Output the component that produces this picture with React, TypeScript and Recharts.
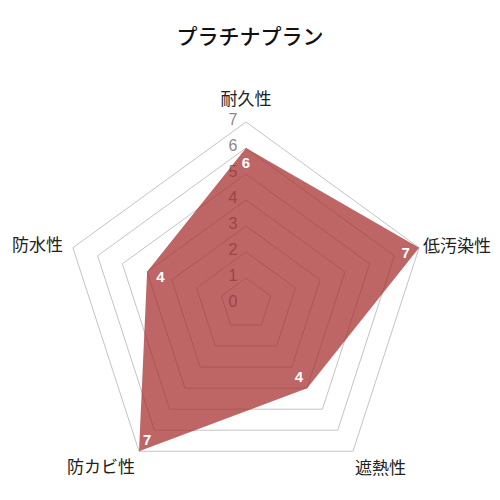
import React from 'react';
import { RadarChart, Radar, PolarGrid, PolarAngleAxis, PolarRadiusAxis } from 'recharts';

const categories = ['耐久性', '低汚染性', '遮熱性', '防カビ性', '防水性'];
const scores = [6, 7, 4, 7, 4];
const radiusTicks = [0, 1, 2, 3, 4, 5, 6, 7];

const data = categories.map((name, i) => ({ name, score: scores[i] }));

const CX = 246;
const CY = 304;
const R = 182;

const JP_FONT = '"Noto Sans CJK JP", "Noto Sans", sans-serif';
const NUM_FONT = '"Liberation Sans", Arial, sans-serif';

// label placement around each outer vertex (center of the text)
const angleLabelPos = [
  { anchor: 'middle', dx: 0, dy: -25 },
  { anchor: 'start', dx: 4, dy: -3 },
  { anchor: 'start', dx: 2, dy: 15 },
  { anchor: 'end', dx: -4, dy: 14 },
  { anchor: 'end', dx: -10, dy: -4 },
];

const AngleTick = (props: any) => {
  const { payload, index } = props;
  const rad = (-payload.coordinate * Math.PI) / 180;
  const vx = CX + R * Math.cos(rad);
  const vy = CY + R * Math.sin(rad);
  const pos = angleLabelPos[index] || angleLabelPos[0];
  return (
    <text
      x={vx + pos.dx}
      y={vy + pos.dy}
      textAnchor={pos.anchor}
      dominantBaseline="central"
      fill="#222"
      fontSize={17}
      fontFamily={JP_FONT}
    >
      {payload.value}
    </text>
  );
};

const RadiusTick = (props: any) => {
  const { x, y, payload } = props;
  return (
    <text
      x={x - 13}
      y={y - 3}
      textAnchor="middle"
      dominantBaseline="central"
      fill="#8a8a8a"
      fontSize={16}
      fontFamily={NUM_FONT}
    >
      {payload.value}
    </text>
  );
};

const ValueDot = (props: any) => {
  const { cx, cy, index } = props;
  const vx = CX - cx;
  const vy = CY - cy;
  const len = Math.sqrt(vx * vx + vy * vy) || 1;
  const value = props.value ?? scores[index];
  return (
    <text
      key={`dot-${index}`}
      x={cx + (vx / len) * 14}
      y={cy + (vy / len) * 14}
      textAnchor="middle"
      dominantBaseline="central"
      fill="#fff"
      fontSize={15}
      fontWeight="bold"
      fontFamily={NUM_FONT}
    >
      {value}
    </text>
  );
};

export default function App() {
  return (
    <div style={{ position: 'absolute', left: 0, top: 0, width: 500, height: 500, background: '#fff' }}>
      <div
        style={{
          position: 'absolute',
          top: 22,
          width: 500,
          textAlign: 'center',
          fontFamily: JP_FONT,
          fontSize: 21,
          fontWeight: 500,
          color: '#111',
          lineHeight: '26px',
        }}
      >
        プラチナプラン
      </div>
      <RadarChart
        width={500}
        height={500}
        data={data}
        cx={CX}
        cy={CY}
        outerRadius={R}
        margin={{ top: 0, right: 0, bottom: 0, left: 0 }}
      >
        <PolarGrid gridType="polygon" radialLines={false} stroke="#c4c4c4" />
        <PolarRadiusAxis
          angle={90}
          domain={[0, 7]}
          ticks={radiusTicks as any}
          tickCount={8}
          tick={<RadiusTick />}
          axisLine={false}
          tickLine={false}
          {...({ zIndex: -50 } as any)}
        />
        <PolarAngleAxis dataKey="name" tick={<AngleTick />} tickLine={false} axisLine={false} />
        <Radar
          dataKey="score"
          fill="#a52a2a"
          fillOpacity={0.72}
          stroke="none"
          dot={<ValueDot />}
          isAnimationActive={false}
        />
      </RadarChart>
    </div>
  );
}
